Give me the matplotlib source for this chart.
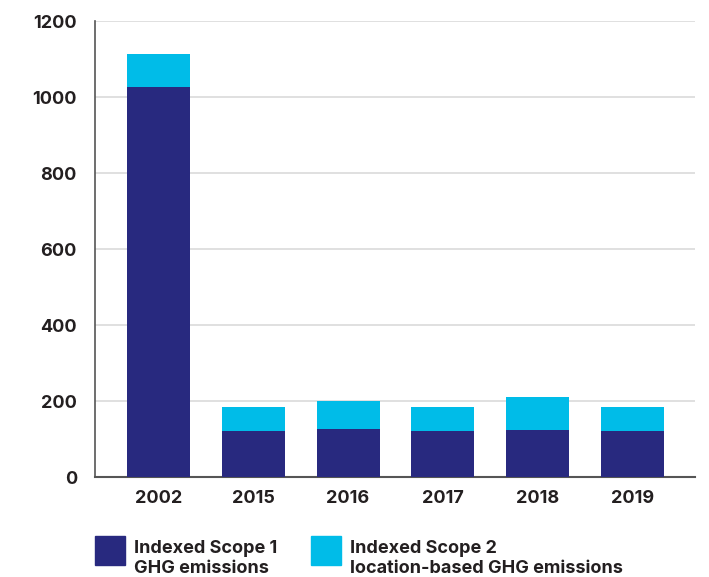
import numpy as np
import matplotlib
matplotlib.use('Agg')
import matplotlib.pyplot as plt
from matplotlib.patches import Rectangle

# Data
years = ['2002', '2015', '2016', '2017', '2018', '2019']
scope1 = [1026, 121, 126, 121, 124, 121]
scope2 = [87, 63, 74, 63, 86, 63]  # stacked on top of scope 1
labels = ['Indexed Scope 1\nGHG emissions', 'Indexed Scope 2\nlocation-based GHG emissions']
yticks = [0, 200, 400, 600, 800, 1000, 1200]

navy = '#28297F'
cyan = '#00BCE8'
text_col = '#231F20'

plt.rcParams['font.family'] = ['Inter', 'DejaVu Sans']

fig = plt.figure(figsize=(7.09, 5.77), dpi=100)
ax = fig.add_axes([0.134, 0.1733, 0.846, 0.7903])

x = np.arange(len(years))
w = 0.665
ax.bar(x, scope1, width=w, color=navy, zorder=3)
ax.bar(x, scope2, width=w, bottom=scope1, color=cyan, zorder=3)

ax.set_xlim(-0.67, 5.66)
ax.set_ylim(0, 1200)
ax.set_yticks(yticks)
ax.set_xticks(x)
ax.set_xticklabels(years)
ax.grid(axis='y', color='#DADADA', linewidth=1.2, zorder=0)
ax.set_axisbelow(True)

for s in ['top', 'right']:
    ax.spines[s].set_visible(False)
ax.spines['left'].set_color('#555555')
ax.spines['bottom'].set_color('#555555')
ax.spines['bottom'].set_linewidth(1.5)
ax.spines['left'].set_linewidth(1.2)

ax.tick_params(axis='both', length=0, labelsize=13, colors=text_col)
ax.tick_params(axis='y', pad=13)
ax.tick_params(axis='x', pad=9.5)
for t in ax.get_xticklabels() + ax.get_yticklabels():
    t.set_fontweight('bold')

# legend: coloured squares with two-line labels under the plot
for (sx, col), (tx, lab) in zip([(0.134, navy), (0.4393, cyan)],
                                 [(0.189, labels[0]), (0.4937, labels[1])]):
    fig.add_artist(Rectangle((sx, 0.0204), 0.0416, 0.0507, color=col,
                             transform=fig.transFigure))
    fig.text(tx, 0.0641, lab, ha='left', va='top', fontsize=13,
             fontweight='bold', color=text_col, linespacing=1.2)

fig.savefig('out.png', dpi=100)
